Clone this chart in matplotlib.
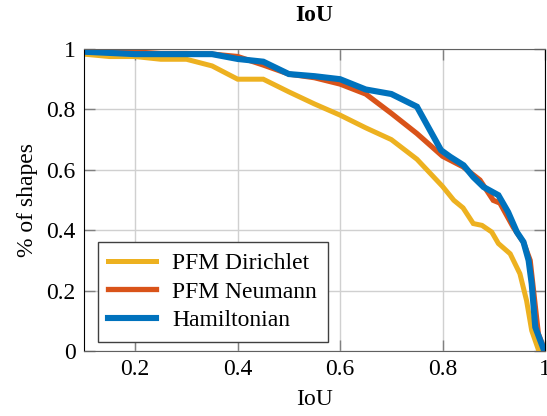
import numpy as np
import matplotlib
matplotlib.use('Agg')
from matplotlib import pyplot as plt

# IoU thresholds and fraction of shapes above them
x_dir = [0.1, 0.15, 0.2, 0.25, 0.3, 0.35, 0.4, 0.45, 0.5, 0.55, 0.6, 0.65, 0.7, 0.75,
         0.8, 0.822, 0.84, 0.86, 0.877, 0.896, 0.909, 0.932, 0.951, 0.964, 0.974, 0.988]
y_dir = [0.983, 0.975, 0.975, 0.966, 0.966, 0.944, 0.9, 0.9, 0.858, 0.818, 0.781, 0.739,
         0.70, 0.635, 0.545, 0.499, 0.474, 0.422, 0.416, 0.394, 0.356, 0.322, 0.256,
         0.167, 0.068, 0.0]

x_neu = [0.1, 0.2, 0.25, 0.3, 0.35, 0.4, 0.45, 0.5, 0.55, 0.6, 0.65, 0.7, 0.75, 0.8,
         0.84, 0.873, 0.899, 0.912, 0.938, 0.958, 0.971, 0.987, 1.0]
y_neu = [0.995, 0.99, 0.985, 0.985, 0.983, 0.975, 0.947, 0.917, 0.905, 0.884, 0.851,
         0.787, 0.72, 0.645, 0.61, 0.566, 0.499, 0.49, 0.41, 0.36, 0.30, 0.057, 0.0]

x_ham = [0.1, 0.2, 0.25, 0.3, 0.35, 0.4, 0.45, 0.5, 0.55, 0.6, 0.65, 0.7, 0.75, 0.797,
         0.815, 0.841, 0.86, 0.88, 0.909, 0.928, 0.945, 0.958, 0.968, 0.974, 0.981, 0.997]
y_ham = [0.991, 0.983, 0.983, 0.983, 0.983, 0.967, 0.958, 0.917, 0.91, 0.9, 0.866,
         0.851, 0.809, 0.665, 0.643, 0.615, 0.576, 0.543, 0.516, 0.46, 0.394, 0.361,
         0.30, 0.223, 0.079, 0.007]

labels = ['PFM Dirichlet', 'PFM Neumann', 'Hamiltonian']
colors = ['#EDB120', '#D95319', '#0072BD']

plt.rcParams['font.family'] = ['Liberation Serif', 'DejaVu Serif']
plt.rcParams['mathtext.fontset'] = 'stix'

fig = plt.figure(figsize=(5.47, 4.16), dpi=100)
ax = fig.add_axes([84/547, 65/416, 461/547, 302/416])

ax.plot(x_dir, y_dir, color=colors[0], lw=3.6, label=labels[0], solid_joinstyle='miter')
ax.plot(x_neu, y_neu, color=colors[1], lw=3.8, label=labels[1], solid_joinstyle='miter')
ax.plot(x_ham, y_ham, color=colors[2], lw=4.4, label=labels[2], solid_joinstyle='miter')

ax.set_xlim(0.1, 1)
ax.set_ylim(0, 1)
ax.set_xticks([0.2, 0.4, 0.6, 0.8, 1])
ax.set_xticklabels(['0.2', '0.4', '0.6', '0.8', '1'])
ax.set_yticks([0, 0.2, 0.4, 0.6, 0.8, 1])
ax.set_yticklabels(['0', '0.2', '0.4', '0.6', '0.8', '1'])
ax.grid(True, color='#d0d0d0', lw=1)
ax.set_axisbelow(True)
ax.tick_params(direction='in', length=8, width=1, color='#808080', labelsize=17,
               top=True, right=True, pad=6)
for s in ['top', 'right', 'bottom']:
    ax.spines[s].set_color('#606060')
ax.spines['left'].set_color('black')
ax.spines['right'].set_color('black')

ax.set_title('IoU', fontsize=17, fontweight='bold', pad=20)
ax.set_xlabel('IoU', fontsize=17, labelpad=6)
ax.set_ylabel('% of shapes', fontsize=17, labelpad=6)

leg = ax.legend(loc='lower left', bbox_to_anchor=(0.03, 0.03), borderaxespad=0,
                fontsize=17, fancybox=False, edgecolor='#404040', framealpha=1,
                handlelength=2.0, borderpad=0.45, labelspacing=0.3, handletextpad=0.7)
leg.get_frame().set_linewidth(1)

fig.savefig('out.png', dpi=100)
